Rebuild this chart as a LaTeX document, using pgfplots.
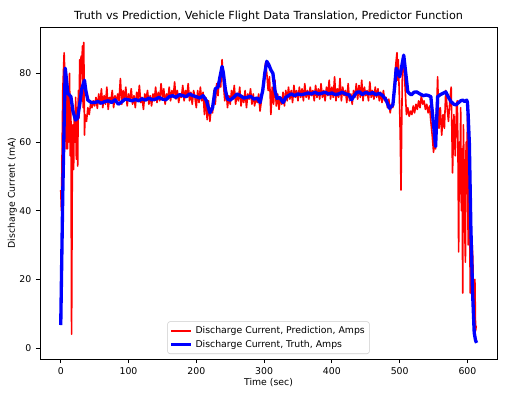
\documentclass[border=0pt]{standalone}
\usepackage{fontspec}
\setmainfont{DejaVu Sans}
\usepackage{pgfplots}
\pgfplotsset{compat=1.18}
\begin{document}
\begin{tikzpicture}
\useasboundingbox (0,0) rectangle (393pt,294.75pt);
\begin{axis}[
  at={(30pt,25.5pt)}, anchor=south west,
  scale only axis, width=342.75pt, height=249pt,
  xmin=-30.6, xmax=643.6, ymin=-3.2, ymax=93.5,
  xtick={0,100,...,600}, ytick={0,20,...,80},
  tick align=outside, tickwidth=3pt,
  xtick pos=bottom, ytick pos=left,
  axis line style={line width=0.6pt},
  every tick/.style={black, line width=0.6pt},
  /pgf/number format/assume math mode=true,
  tick label style={font=\fontsize{7}{8.4}\selectfont},
  label style={font=\fontsize{7}{8.4}\selectfont},
  xlabel={Time (sec)}, ylabel={Discharge Current (mA)},
  xlabel style={yshift=4pt},
  ylabel style={yshift=-5pt},
  title={Truth vs Prediction, Vehicle Flight Data Translation, Predictor Function},
  title style={font=\fontsize{8.4}{10}\selectfont, yshift=-6pt},
  legend style={at={(0.5,0.015)}, anchor=south, draw=black!20, rounded corners=2pt,
    font=\fontsize{7}{8.4}\selectfont, fill=white, fill opacity=0.8, text opacity=1,
    inner sep=1.5pt, row sep=-0.5pt},
  legend cell align=left,
  legend image code/.code={\draw[#1] (0pt,0pt) -- (15pt,0pt);},
]
\addplot[red, line width=1.2pt, line join=round] coordinates {
(0,46) (1,40) (3,75) (5,86) (6,80) (7,70) (8,58) (9,78) (10,58) (11,76) (12,60) (13,80) (14,56) (15,70) (16,4) (17,50) (18,65) (19,52) (20,68) (21,60) (22,73) (23,55) (24,70) (25,53) (26,75) (27,67) (28,84) (29,76) (30,85) (31,80) (32,88) (33,70) (34,89) (35,62) (36,68) (38,66) (40,70) (42,68) (44,71) (46,70) (48,72)
(50,70.5) (52,73) (54,69.8) (56,74) (58,71) (60,75.5) (62,70) (64,73.5) (66,71) (68,76) (70,69.5) (72,73) (74,72) (76,75) (78,70) (80,73.5) (82,71.5) (84,74) (86,72) (88,78.5) (90,71) (92,75) (94,72.5) (96,76) (98,70.5) (100,74) (102,72) (104,75.5) (106,71) (108,73.5) (110,70) (112,74.5) (114,72) (116,76.5) (118,71.5) (120,73) (122,69.5) (124,74) (126,72.5) (128,75) (130,71) (132,73.5) (134,70.5) (136,74) (138,72) (140,76) (142,71.5) (144,74.5) (146,72) (148,77) (150,73) (152,75.5) (154,71) (156,74) (158,72.5) (160,76) (162,72) (164,75) (166,73) (168,77.5) (170,72.5) (172,75) (174,71.5) (176,74) (178,73) (180,76.5) (182,72) (184,75) (186,73) (188,77) (190,72) (192,74.5) (194,71) (196,75) (198,73)
(200,70) (202,75) (204,71.5) (206,76) (208,72) (210,74.5) (212,68) (214,73) (216,66.5) (218,72) (220,66) (222,70) (224,68.5) (226,75) (228,71) (230,77) (232,73.5) (234,79) (236,76) (238,84) (240,77) (242,72) (244,75.5) (246,70) (248,73.5) (250,71) (252,75) (254,72.5) (256,76.5) (258,71) (260,74) (262,72) (264,76) (266,70.5) (268,73.5) (270,71.5) (272,75) (274,70) (276,74) (278,72.5) (280,75.5) (282,71) (284,74) (286,70.5) (288,73) (290,71.5) (292,74) (294,69) (296,72) (298,76) (300,78) (302,83) (304,80) (306,75) (308,79) (310,68) (312,76) (314,71) (316,78) (318,70.5) (320,74) (322,69.5) (324,73) (326,71) (328,74.5) (330,70.5) (332,75) (334,72) (336,76) (338,72.5) (340,75) (342,71.5) (344,76.5) (346,73) (348,75) (350,72) (352,76) (354,73) (356,75.5) (358,72) (360,77) (362,73) (364,75) (366,72.5) (368,76) (370,73.5) (372,75) (374,72) (376,76.5) (378,73) (380,75.5) (382,72.5) (384,77) (386,73) (388,75) (390,72) (392,76) (394,73.5) (396,78) (398,72.5) (400,76) (402,73) (404,79) (406,72) (408,75.5) (410,73) (412,78.5) (414,72) (416,76) (418,73.5) (420,75) (422,71.5) (424,77) (426,72) (428,74) (430,71) (432,75) (434,73) (436,77) (438,72.5) (440,76.5) (442,73) (444,78) (446,72) (448,76) (450,73.5) (452,75) (454,72) (456,77.5) (458,73) (460,75) (462,72.5) (464,76) (466,73) (468,75.5) (470,72) (472,74.5) (474,71.5) (476,75) (478,72)
(480,73) (482,70) (484,72.5) (486,68.5) (488,71) (490,70) (492,76) (494,82) (496,86) (497,78) (498,84) (500,70) (501,60) (502,46) (503,65) (504,80) (506,84) (508,76) (510,68) (512,70) (514,67.5) (516,69) (518,68) (520,70.5) (522,68.5) (524,71) (526,69.5) (528,72) (530,70) (532,73.5) (534,71) (536,72) (538,69.5) (540,71) (542,68.5) (544,70.5) (546,66) (548,62) (550,57) (552,62) (553,58) (554,66) (556,79) (558,64) (560,70) (562,62) (564,68) (566,64) (568,75) (570,70) (572,66) (574,72) (576,76) (578,51) (580,68) (582,56) (584,71) (585,72) (586,58) (587,28) (588,60) (589,45) (590,70) (591,40) (592,58) (593,16) (594,65) (595,53) (596,35) (597,25) (598,60) (599,45) (600,68) (601,30) (602,60) (603,61.5) (604,16) (605,45) (606,20) (607,30) (608,25.7) (609,12) (610,7.3) (611,20) (612,5) (613,6.5)
};
\addlegendentry{Discharge Current, Prediction, Amps}
\addplot[blue, line width=2.5pt, line join=round] coordinates {
(0,6.7) (3,45) (6.6,81.5) (8,79) (10.5,74.2) (15,73.2) (18,69) (21.8,66.4) (25,67) (28,71) (31,75.5) (35,78) (37,75) (40,72.2) (45,71.5) (50,71.5) (55,71.8) (60,71.3) (65,71.8) (70,72) (75,71.5) (80,72.3) (85,71) (90,71.7) (95,72.5) (100,72.3) (105,72) (110,72.4) (115,72) (120,72.6) (125,72.2) (130,72.8) (135,72.3) (140,72.5) (145,73) (150,72.5) (155,72.3) (160,73.2) (165,73.5) (170,73) (175,73.8) (180,73.5) (185,73.2) (190,74) (195,73.5) (200,73.2) (205,72.8) (210,73.5) (215,72) (220,68.5) (224,70) (228,75.5) (232,76) (236,80) (238,82) (240,80) (243,75) (246,72.5) (250,72.2) (255,73) (260,74) (265,73.5) (270,72.8) (275,73) (280,73.3) (285,72.5) (290,72.8) (294,71.5) (298,75) (301,80) (304,83.5) (307,82.5) (310,81) (313,80) (316,75) (319,72.7) (323,73) (328,71.5) (332,73) (336,73.5) (340,74) (345,73.5) (350,74) (355,73.8) (360,74) (365,74.3) (370,74) (375,74.5) (380,74) (385,74.2) (390,74.5) (395,74) (400,74.3) (405,73.8) (410,74) (415,74.5) (420,74) (425,73.8) (429,72.3) (433,73.5) (437,74.5) (441,74.6) (445,73.8) (450,74.5) (455,74) (460,74.4) (465,73.8) (470,74.2) (475,73.5) (480,72.2) (485,69.8) (490,70.8) (493,77) (495,81.5) (498,80) (500,79) (503,82) (506,85.3) (509,80) (512,74.6) (517,73.7) (521,74.5) (525,74.6) (530,74) (535,73.5) (539,73.7) (543,73.5) (546,73.2) (550,65) (553,58.7) (556,73.2) (560,73.8) (565,74.3) (568,74.6) (572,73) (576,71.7) (580,71) (583,70.8) (587,71.5) (590,72) (593,72.2) (596,71.8) (599,72.2) (600,71.5) (601,68) (602.8,59.6) (605,35.4) (607.6,16) (610,4.4) (612,2.2) (613.5,1.5)
};
\addlegendentry{Discharge Current, Truth, Amps}
\end{axis}
\end{tikzpicture}
\end{document}
